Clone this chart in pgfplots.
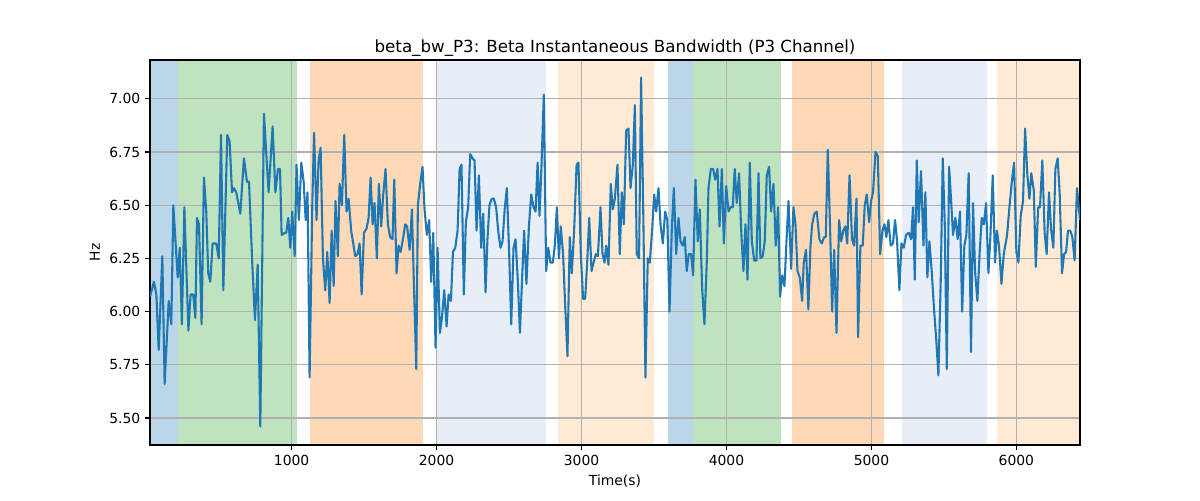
\documentclass[border=0pt]{standalone}
\usepackage{fontspec}
\setmainfont{DejaVu Sans}
\usepackage{pgfplots}
\pgfplotsset{compat=1.18}

\definecolor{tabblue}{HTML}{1F77B4}
\definecolor{tabgreen}{HTML}{2CA02C}
\definecolor{taborange}{HTML}{FF7F0E}
\definecolor{lightblue}{HTML}{AEC7E8}
\definecolor{lightorange}{HTML}{FFBB78}
\definecolor{gridgray}{HTML}{B0B0B0}

\begin{document}
\begin{tikzpicture}
\begin{axis}[
  set layers,
  scale only axis,
  width=669.6pt, height=277.2pt,
  xmin=23, xmax=6439,
  ymin=5.373, ymax=7.182,
  xtick={1000,2000,3000,4000,5000,6000},
  ytick={5.50,5.75,6.00,6.25,6.50,6.75,7.00},
  yticklabel style={/pgf/number format/.cd, fixed, fixed zerofill, precision=2},
  xticklabel style={/pgf/number format/1000 sep={}},
  /pgf/number format/assume math mode=true,
  tick label style={font=\fontsize{10}{12}\selectfont},
  label style={font=\fontsize{10}{12}\selectfont},
  title style={font=\fontsize{12}{14}\selectfont, yshift=-7pt},
  title={beta\_bw\_P3: Beta Instantaneous Bandwidth (P3 Channel)},
  xlabel={Time(s)},
  ylabel={Hz},
  grid=major,
  grid style={gridgray, line width=0.8pt},
  tick align=outside,
  major tick length=3.5pt,
  tick style={black, line width=0.8pt},
  axis line style={black, line width=0.8pt},
  xtick pos=bottom, ytick pos=left,
]
% shaded segments (kept inside the axis limits, since the background layer is not clipped)
\addplot[on layer=axis background, fill=tabblue, fill opacity=0.3, draw=none] coordinates {(23,5.373)(23,7.182)(216,7.182)(216,5.373)};
\addplot[on layer=axis background, fill=tabgreen, fill opacity=0.3, draw=none] coordinates {(216,5.373)(216,7.182)(1036,7.182)(1036,5.373)};
\addplot[on layer=axis background, fill=taborange, fill opacity=0.3, draw=none] coordinates {(1129,5.373)(1129,7.182)(1908,7.182)(1908,5.373)};
\addplot[on layer=axis background, fill=lightblue, fill opacity=0.3, draw=none] coordinates {(2001,5.373)(2001,7.182)(2757,7.182)(2757,5.373)};
\addplot[on layer=axis background, fill=lightorange, fill opacity=0.3, draw=none] coordinates {(2837,5.373)(2837,7.182)(3501,7.182)(3501,5.373)};
\addplot[on layer=axis background, fill=tabblue, fill opacity=0.3, draw=none] coordinates {(3598,5.373)(3598,7.182)(3768,7.182)(3768,5.373)};
\addplot[on layer=axis background, fill=tabgreen, fill opacity=0.3, draw=none] coordinates {(3768,5.373)(3768,7.182)(4376,7.182)(4376,5.373)};
\addplot[on layer=axis background, fill=taborange, fill opacity=0.3, draw=none] coordinates {(4453,5.373)(4453,7.182)(5088,7.182)(5088,5.373)};
\addplot[on layer=axis background, fill=lightblue, fill opacity=0.3, draw=none] coordinates {(5210,5.373)(5210,7.182)(5796,7.182)(5796,5.373)};
\addplot[on layer=axis background, fill=lightorange, fill opacity=0.3, draw=none] coordinates {(5867,5.373)(5867,7.182)(6439,7.182)(6439,5.373)};
% signal
\addplot[tabblue, line width=1.5pt, line join=round] coordinates {
(23,6.07)(50,6.14)(67,6.08)(83,5.82)(108,6.26)(124,5.66)(152,6.05)(170,5.94)(184,6.50)(214,6.16)
(228,6.30)(243,5.94)(260,6.49)(288,5.91)(303,6.08)(321,6.08)(336,5.97)(347,6.44)(361,6.41)(379,5.94)
(395,6.63)(411,6.47)(425,6.18)(439,6.14)(455,6.32)(480,6.32)(497,6.25)(513,6.83)(529,6.10)(556,6.83)
(572,6.80)(589,6.56)(602,6.58)(618,6.56)(646,6.46)(671,6.72)
(692,6.61)(706,6.61)(729,6.22)(747,5.96)(766,6.22)(784,5.46)(809,6.93)(841,6.56)(869,6.87)(888,6.56)
(906,6.67)(920,6.67)(931,6.36)(952,6.37)(963,6.37)(977,6.44)(991,6.30)(1004,6.47)(1021,6.26)(1034,6.69)
(1050,6.43)(1067,6.70)(1083,6.61)(1097,6.43)(1110,6.56)(1124,5.69)(1143,6.52)(1155,6.84)(1172,6.43)(1186,6.71)
(1200,6.77)(1216,6.25)(1232,6.10)(1246,6.28)(1262,6.04)(1276,6.38)(1290,6.12)(1303,6.52)(1319,6.26)(1331,6.60)
(1347,6.50)(1363,6.83)(1379,6.47)(1393,6.53)(1411,6.38)(1439,6.26)(1455,6.27)(1469,6.32)(1483,6.08)(1499,6.37)
(1517,6.39)(1531,6.44)(1545,6.63)(1559,6.41)(1572,6.51)(1588,6.25)(1602,6.60)(1618,6.40)(1632,6.55)(1648,6.67)
(1664,6.41)(1680,6.35)(1696,6.34)(1708,6.62)(1724,6.18)(1738,6.31)(1752,6.28)(1768,6.34)(1784,6.41)(1797,6.40)
(1814,6.29)(1830,6.48)(1844,6.12)(1860,5.73)(1871,6.50)(1887,6.60)(1903,6.68)(1917,6.48)(1933,6.36)(1949,6.43)
(1963,6.14)(1977,6.37)
(1993,5.83)(2007,6.30)(2023,5.90)(2037,5.97)(2053,6.10)(2069,5.93)(2083,6.08)(2099,6.05)(2113,6.28)(2129,6.30)
(2145,6.38)(2159,6.67)(2172,6.69)(2188,6.08)(2202,6.42)(2218,6.49)(2232,6.74)(2248,6.72)(2262,6.71)(2276,6.38)
(2292,6.64)(2308,6.30)(2322,6.46)(2338,6.09)(2351,6.34)(2365,6.50)(2381,6.53)(2395,6.53)(2411,6.49)(2425,6.38)
(2441,6.30)(2455,6.33)(2471,6.49)(2485,6.58)(2501,6.27)(2515,5.94)(2531,6.30)(2545,6.34)(2561,6.14)(2575,5.90)
(2591,6.17)(2604,6.38)(2620,6.13)(2637,6.40)
(2653,6.55)(2669,6.49)(2683,6.47)(2697,6.70)(2710,6.45)(2724,6.69)(2740,7.02)(2756,6.19)(2770,6.30)(2786,6.23)
(2802,6.23)(2816,6.31)(2830,6.49)(2844,6.25)(2857,6.40)(2873,6.27)(2887,6.03)(2903,5.79)(2919,6.35)(2933,6.18)
(2949,6.38)(2966,6.69)(2979,6.70)(2995,6.27)(3011,6.06)(3025,6.06)(3039,6.23)(3053,6.44)(3069,6.19)(3083,6.23)
(3099,6.27)(3113,6.26)(3131,6.49)(3145,6.27)(3159,6.23)(3170,6.31)(3186,6.22)(3202,6.60)(3216,6.48)(3230,6.53)
(3248,6.69)(3264,6.27)(3278,6.56)(3292,6.41)
(3308,6.85)(3324,6.86)(3338,6.58)(3354,6.69)(3368,6.97)(3381,6.27)(3397,6.25)(3411,7.10)(3427,6.42)(3441,5.69)
(3457,6.25)(3471,6.23)(3487,6.38)(3501,6.55)(3515,6.47)(3531,6.58)(3545,6.41)(3561,6.32)(3577,6.47)(3592,6.43)
(3607,6.00)(3623,6.39)(3637,6.58)(3653,6.27)(3669,6.44)(3683,6.33)(3698,6.31)(3712,6.35)(3726,6.19)(3740,6.27)
(3756,6.27)(3770,6.17)(3786,6.62)(3802,6.33)(3816,6.48)(3832,6.11)(3848,5.94)(3864,6.23)(3876,6.58)(3892,6.67)
(3908,6.67)(3922,6.62)(3938,6.67)(3952,6.40)
(3968,6.67)(3982,6.32)(3998,6.59)(4014,6.47)(4028,6.49)(4043,6.49)(4057,6.67)(4071,6.51)(4087,6.65)(4101,6.39)
(4117,6.19)(4131,6.41)(4145,6.15)(4161,6.70)(4175,6.33)(4191,6.24)(4207,6.24)(4221,6.65)(4234,6.25)(4250,6.26)
(4264,6.33)(4278,6.64)(4294,6.68)(4308,6.47)(4324,6.60)(4340,6.31)(4356,6.49)(4370,6.07)(4384,6.17)(4400,6.12)
(4414,6.33)(4428,6.52)(4446,6.20)(4462,6.49)(4476,6.41)(4490,6.19)(4506,6.16)(4522,6.05)(4533,6.23)(4549,6.29)
(4565,6.01)(4579,6.30)
(4591,6.41)(4607,6.46)(4623,6.47)(4641,6.34)(4657,6.32)(4674,6.35)(4685,6.35)(4699,6.76)(4715,6.39)(4729,6.00)
(4743,6.29)(4759,5.90)(4777,6.43)(4791,6.33)(4806,6.38)(4820,6.40)(4833,6.32)(4849,6.64)(4866,6.34)(4880,6.31)
(4897,6.53)(4908,5.88)(4924,6.31)(4940,6.31)(4954,6.50)(4968,6.55)(4984,6.42)(4998,6.52)(5011,6.56)(5028,6.75)
(5044,6.73)(5060,6.27)(5076,6.38)(5090,6.41)(5103,6.35)(5117,6.43)(5133,6.31)(5149,6.32)(5163,6.43)(5177,6.33)
(5193,6.10)(5207,6.32)(5223,6.30)(5239,6.36)(5257,6.37)
(5274,6.34)(5287,6.49)(5299,6.15)(5313,6.71)(5326,6.42)(5342,6.66)(5359,6.31)(5372,6.56)(5386,6.16)(5400,6.33)
(5416,6.19)(5432,6.01)(5448,5.86)(5462,5.70)(5478,6.14)(5492,6.72)(5506,6.41)(5520,5.73)(5536,6.68)(5549,6.53)
(5563,6.36)(5579,6.44)(5595,6.34)(5611,6.47)(5626,6.00)(5641,6.31)(5655,6.36)(5671,6.65)(5687,5.81)(5701,6.51)
(5715,6.19)(5731,6.05)(5747,6.28)(5761,6.44)(5775,6.41)(5791,6.51)(5807,6.18)(5820,6.34)(5837,6.64)(5853,6.23)
(5866,6.38)(5880,6.31)(5897,6.13)(5913,6.27)
(5936,6.36)(5952,6.49)(5970,6.62)(5984,6.70)(6000,6.28)(6014,6.23)(6030,6.45)(6046,6.52)(6060,6.86)(6076,6.64)
(6090,6.53)(6103,6.65)(6120,6.57)(6134,6.21)(6150,6.49)(6163,6.49)(6179,6.71)(6195,6.37)(6209,6.27)(6225,6.56)
(6239,6.39)(6255,6.30)(6269,6.67)(6285,6.72)(6299,6.55)(6315,6.18)(6329,6.27)(6343,6.28)(6356,6.38)(6372,6.38)
(6386,6.35)(6402,6.24)(6418,6.58)(6439,6.43)
};
\end{axis}
\path (-108pt,-39.6pt) rectangle (756pt,320.4pt);
\end{tikzpicture}
\end{document}
